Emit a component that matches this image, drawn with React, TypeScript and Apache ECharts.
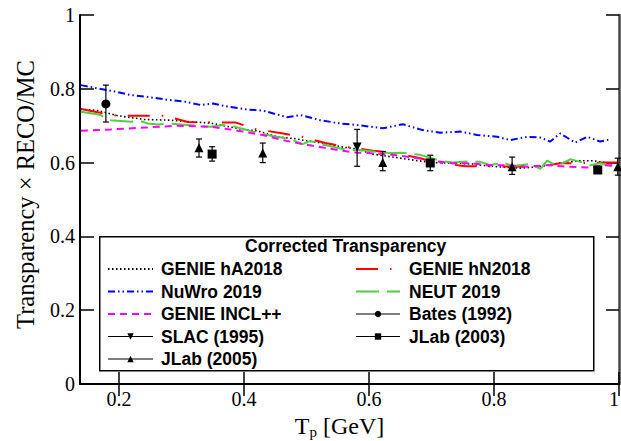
import React, { useEffect, useRef } from "react";
import * as echarts from "echarts";

// ---- data ----
const xTicks = [0.2, 0.4, 0.6, 0.8, 1.0];

const genieHA: number[][] = [
  [0.139, 0.745], [0.166, 0.741], [0.198, 0.727], [0.24, 0.717], [0.28, 0.715], [0.31, 0.711],
  [0.347, 0.707], [0.394, 0.691], [0.421, 0.686], [0.453, 0.67], [0.485, 0.664], [0.506, 0.657],
  [0.526, 0.653], [0.558, 0.642], [0.581, 0.637], [0.606, 0.623], [0.638, 0.615], [0.67, 0.607],
  [0.702, 0.6], [0.734, 0.599], [0.766, 0.596], [0.778, 0.593], [0.81, 0.588], [0.842, 0.585],
  [0.874, 0.589], [0.906, 0.599], [0.938, 0.605], [0.958, 0.605], [0.981, 0.599], [0.997, 0.599],
];

const genieHN: number[][] = [
  [0.139, 0.745], [0.17, 0.735], [0.198, 0.727], [0.234, 0.727], [0.274, 0.727], [0.31, 0.71],
  [0.346, 0.709], [0.386, 0.709], [0.418, 0.691], [0.458, 0.68], [0.493, 0.67], [0.53, 0.653],
  [0.566, 0.642], [0.606, 0.632], [0.638, 0.627], [0.682, 0.612], [0.702, 0.602], [0.754, 0.59],
  [0.778, 0.59], [0.846, 0.589], [0.874, 0.589], [0.906, 0.598], [0.933, 0.598], [0.974, 0.6], [1.0, 0.6],
];

const nuwro: number[][] = [
  [0.139, 0.81], [0.166, 0.801], [0.187, 0.795], [0.219, 0.783], [0.242, 0.779], [0.274, 0.771],
  [0.306, 0.765], [0.331, 0.756], [0.35, 0.76], [0.373, 0.752], [0.405, 0.744], [0.43, 0.741],
  [0.469, 0.723], [0.49, 0.729], [0.522, 0.715], [0.554, 0.706], [0.581, 0.702], [0.622, 0.693],
  [0.654, 0.704], [0.686, 0.688], [0.714, 0.681], [0.746, 0.684], [0.773, 0.675], [0.805, 0.67],
  [0.826, 0.661], [0.853, 0.67], [0.874, 0.668], [0.89, 0.657], [0.906, 0.679], [0.93, 0.654],
  [0.949, 0.67], [0.97, 0.657], [0.986, 0.663],
];

const neut: number[][] = [
  [0.139, 0.738], [0.155, 0.734], [0.171, 0.729], [0.178, 0.72], [0.187, 0.715], [0.219, 0.711],
  [0.234, 0.713], [0.246, 0.706], [0.262, 0.703], [0.278, 0.706], [0.31, 0.702], [0.347, 0.697],
  [0.366, 0.702], [0.382, 0.699], [0.414, 0.684], [0.43, 0.677], [0.453, 0.67], [0.474, 0.664],
  [0.494, 0.65], [0.506, 0.659], [0.522, 0.65], [0.542, 0.643], [0.565, 0.634], [0.586, 0.634],
  [0.606, 0.63], [0.634, 0.626], [0.653, 0.627], [0.682, 0.621], [0.714, 0.605], [0.734, 0.6],
  [0.757, 0.603], [0.778, 0.602], [0.794, 0.593], [0.814, 0.6], [0.83, 0.591], [0.858, 0.596],
  [0.874, 0.583], [0.885, 0.605], [0.901, 0.591], [0.922, 0.609], [0.938, 0.602], [0.954, 0.593],
  [0.97, 0.598], [0.99, 0.589],
];

const incl: number[][] = [
  [0.139, 0.686], [0.187, 0.69], [0.242, 0.695], [0.294, 0.7], [0.347, 0.697], [0.378, 0.69],
  [0.398, 0.684], [0.43, 0.675], [0.462, 0.661], [0.494, 0.65], [0.526, 0.641], [0.558, 0.632],
  [0.581, 0.627], [0.606, 0.625], [0.638, 0.621], [0.67, 0.614], [0.702, 0.605], [0.734, 0.598],
  [0.766, 0.598], [0.789, 0.593], [0.821, 0.593], [0.853, 0.589], [0.885, 0.593], [0.917, 0.589],
  [0.949, 0.587], [0.981, 0.593], [0.997, 0.593],
];

// [x, y, yLow, yHigh]
const bates: number[][] = [[0.179, 0.759, 0.71, 0.81]];
const slac: number[][] = [[0.581, 0.642, 0.59, 0.69]];
const jlab2005: number[][] = [
  [0.328, 0.64, 0.615, 0.664], [0.43, 0.626, 0.6, 0.653], [0.622, 0.6, 0.578, 0.63],
  [0.829, 0.589, 0.568, 0.615], [0.998, 0.589, 0.566, 0.612],
];
const jlab2003: number[][] = [
  [0.349, 0.623, 0.604, 0.643], [0.698, 0.599, 0.578, 0.62], [0.966, 0.58, 0.575, 0.585],
];

const SANS = "Liberation Sans";
const SERIF = "Liberation Serif";

function curve(name: string, data: number[][], color: string, type: any, width = 2) {
  return {
    name,
    type: "line",
    data,
    symbol: "none",
    lineStyle: { color, width, type },
    itemStyle: { color },
    z: 3,
  };
}

function points(name: string, data: number[][], symbol: string, size: number, rotate = 0) {
  return {
    name,
    type: "line",
    data: data.map((d) => [d[0], d[1]]),
    symbol,
    symbolSize: size,
    symbolRotate: rotate,
    showSymbol: true,
    showAllSymbol: true,
    lineStyle: { opacity: 0, color: "#000", width: 1 },
    itemStyle: { color: "#000" },
    z: 5,
  };
}

function errBars(data: number[][]) {
  return {
    type: "custom",
    data,
    encode: { x: 0, y: 1 },
    z: 4,
    renderItem: (_p: any, api: any) => {
      const x = api.value(0);
      const lo = api.coord([x, api.value(2)]);
      const hi = api.coord([x, api.value(3)]);
      const w = 3;
      const st = { stroke: "#000", lineWidth: 1.2 };
      return {
        type: "group",
        children: [
          { type: "line", shape: { x1: lo[0], y1: lo[1], x2: hi[0], y2: hi[1] }, style: st },
          { type: "line", shape: { x1: lo[0] - w, y1: lo[1], x2: lo[0] + w, y2: lo[1] }, style: st },
          { type: "line", shape: { x1: hi[0] - w, y1: hi[1], x2: hi[0] + w, y2: hi[1] }, style: st },
        ],
      };
    },
  };
}

const dataLegendLine = { color: "#000", width: 1.2, opacity: 1, type: "solid" };
const noSymbol = { opacity: 0 };

export default function App() {
  const ref = useRef<HTMLDivElement>(null);
  useEffect(() => {
    document.body.style.margin = "0";
    document.body.style.overflow = "hidden";
    document.documentElement.style.overflow = "hidden";
    const chart = echarts.init(ref.current!, null, { renderer: "svg" });
    const legendText = { fontFamily: SANS, fontWeight: "bold", fontSize: 17.5, color: "#000" };
    chart.setOption({
      animation: false,
      backgroundColor: "#fff",
      grid: { left: 80, right: 2, top: 15, bottom: 57, containLabel: false, outerBoundsMode: "none" },
      title: {
        text: "Corrected Transparency",
        left: 245,
        top: 237,
        padding: 0,
        textStyle: { ...legendText },
        z: 20,
      },
      graphic: [
        {
          type: "rect",
          left: 99,
          top: 236,
          z: 15,
          shape: { width: 494, height: 134 },
          style: { fill: "#fff", stroke: "#000", lineWidth: 1.5 },
        },
      ],
      legend: [
        {
          orient: "vertical",
          left: 107,
          top: 260,
          padding: 0,
          itemWidth: 45,
          itemHeight: 8,
          itemGap: 4.5,
          z: 20,
          textStyle: { ...legendText, padding: [0, 0, 0, 3] },
          data: [
            { name: "GENIE hA2018", itemStyle: noSymbol },
            { name: "NuWro 2019", itemStyle: noSymbol },
            { name: "GENIE INCL++", itemStyle: noSymbol },
            { name: "SLAC (1995)", lineStyle: dataLegendLine },
            { name: "JLab (2005)", lineStyle: dataLegendLine },
          ],
        },
        {
          orient: "vertical",
          left: 355,
          top: 260,
          padding: 0,
          itemWidth: 44,
          itemHeight: 8,
          itemGap: 4.5,
          z: 20,
          textStyle: { ...legendText, padding: [0, 0, 0, 4] },
          data: [
            { name: "GENIE hN2018", itemStyle: noSymbol },
            { name: "NEUT 2019", itemStyle: noSymbol },
            { name: "Bates (1992)", lineStyle: dataLegendLine },
            { name: "JLab (2003)", lineStyle: dataLegendLine },
          ],
        },
      ],
      xAxis: [
        {
          type: "value",
          min: 0.1376,
          max: 1.0,
          position: "bottom",
          name: "{t|T}{s|p}{t| [GeV]}",
          nameLocation: "middle",
          nameGap: 21,
          nameTextStyle: {
            padding: [0, 20, 0, 0],
            rich: {
              t: { fontFamily: SERIF, fontSize: 24, color: "#000" },
              s: { fontFamily: SERIF, fontSize: 15, color: "#000", padding: [12, 0, 0, 0] },
            },
          },
          axisLine: { show: true, lineStyle: { color: "#000", width: 2 } },
          axisTick: { show: true, inside: true, length: 12, customValues: xTicks, lineStyle: { color: "#000", width: 1.5 } },
          axisLabel: {
            customValues: xTicks,
            fontFamily: SERIF,
            fontSize: 20,
            color: "#000",
            margin: 5,
            alignMaxLabel: "right",
          },
          splitLine: { show: false },
        },
        {
          type: "value",
          min: 0.1376,
          max: 1.0,
          position: "top",
          axisLine: { show: true, lineStyle: { color: "#000", width: 2 } },
          axisTick: { show: true, inside: true, length: 12, customValues: xTicks, lineStyle: { color: "#000", width: 1.5 } },
          axisLabel: { show: false },
          splitLine: { show: false },
        },
      ],
      yAxis: [
        {
          type: "value",
          min: 0,
          max: 1,
          interval: 0.2,
          position: "left",
          name: "Transparency × RECO/MC",
          nameLocation: "middle",
          nameGap: 42,
          nameTextStyle: { fontFamily: SERIF, fontSize: 24.5, color: "#000", padding: [0, 0, 0, 10] },
          axisLine: { show: true, lineStyle: { color: "#000", width: 2 } },
          axisTick: { show: true, inside: true, length: 14, lineStyle: { color: "#000", width: 1.5 } },
          axisLabel: { fontFamily: SERIF, fontSize: 20, color: "#000", margin: 5 },
          splitLine: { show: false },
        },
        {
          type: "value",
          min: 0,
          max: 1,
          interval: 0.2,
          position: "right",
          axisLine: { show: true, lineStyle: { color: "#444", width: 2.5 } },
          axisTick: { show: true, inside: true, length: 13, lineStyle: { color: "#000", width: 1.5 } },
          axisLabel: { show: false },
          splitLine: { show: false },
        },
      ],
      series: [
        curve("GENIE hA2018", genieHA, "#000000", [1.5, 2.5], 1.6),
        curve("GENIE hN2018", genieHN, "#ff0000", [22, 12, 1.5, 12], 2),
        curve("NuWro 2019", nuwro, "#0000ff", [7, 3, 1.5, 3, 1.5, 3], 2),
        curve("NEUT 2019", neut, "#55cc44", [23, 8], 2),
        curve("GENIE INCL++", incl, "#ff00ff", [7, 5], 2),
        errBars(bates),
        errBars(slac),
        errBars(jlab2005),
        errBars(jlab2003),
        points("Bates (1992)", bates, "circle", 9),
        points("SLAC (1995)", slac, "triangle", 9, 180),
        points("JLab (2005)", jlab2005, "triangle", 9),
        points("JLab (2003)", jlab2003, "rect", 9),
      ],
    });
    return () => chart.dispose();
  }, []);
  return (
    <div
      ref={ref}
      style={{ position: "fixed", left: 0, top: 0, width: 621, height: 441 }}
    />
  );
}
